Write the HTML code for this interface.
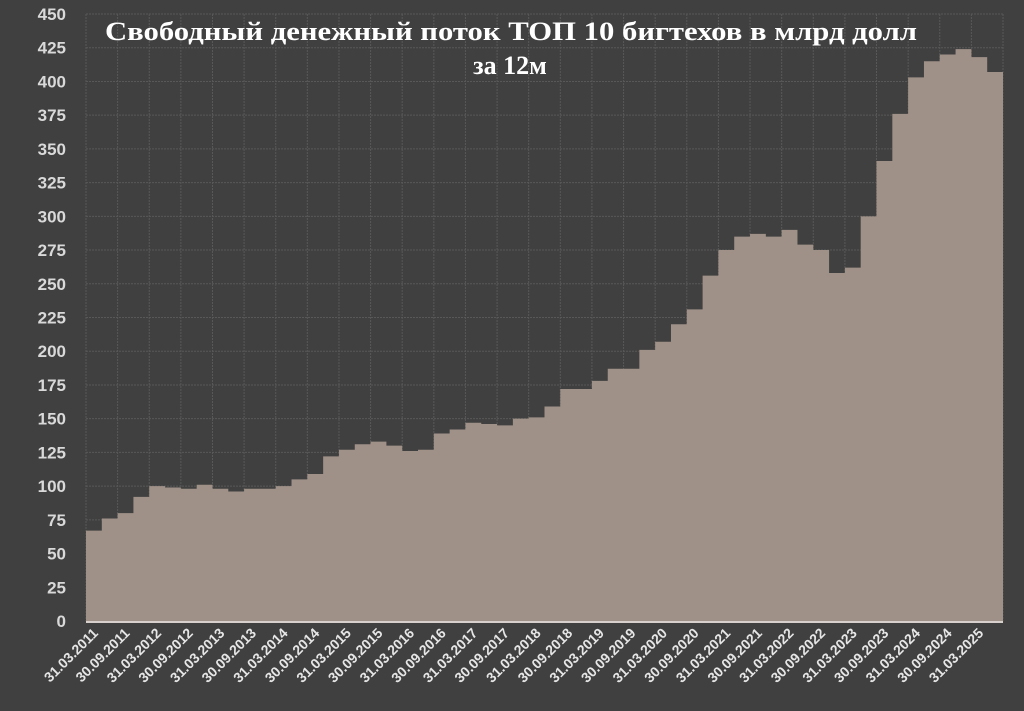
<!DOCTYPE html>
<html><head><meta charset="utf-8"><style>
body{margin:0;background:#404040;}
</style></head><body>
<svg width="1024" height="711" xmlns="http://www.w3.org/2000/svg" style="display:block">
<rect width="1024" height="711" fill="#404040"/>
<g id="grid" stroke="#585858" stroke-width="1" stroke-dasharray="2,1"></g>
<g id="bars"></g>
<line x1="86" y1="622" x2="1003" y2="622" stroke="#d8d0cc" stroke-width="2"/>
<g id="ylab" font-family="Liberation Sans, sans-serif" font-weight="bold" font-size="17" fill="#d9d9d9" text-anchor="end"></g>
<g id="xlab" font-family="Liberation Sans, sans-serif" font-weight="bold" font-size="14" fill="#e6e6e6" text-anchor="end"></g>
<text x="105" y="40" textLength="812" lengthAdjust="spacingAndGlyphs" font-family="Liberation Serif, serif" font-weight="bold" font-size="26" fill="#ffffff">Свободный денежный поток ТОП 10 бигтехов в млрд долл</text>
<text x="510" y="74" font-family="Liberation Serif, serif" font-weight="bold" font-size="26" fill="#ffffff" text-anchor="middle">за 12м</text>
</svg>
<script>
const v=[67,76,80,92,100,99,98,101,98,96,98,98,100,105,109,122,127,131,133,130,126,127,139,142,147,146,145,150,151,159,172,172,178,187,187,201,207,220,231,256,275,285,287,285,290,279,275,258,262,300,341,376,403,415,420,424,418,407];
const NS="http://www.w3.org/2000/svg";
const x0=86,w=917/58,y0=621,k=(621-14)/450;
function el(n,a,p,t){const e=document.createElementNS(NS,n);for(const q in a)e.setAttribute(q,a[q]);if(t!==undefined)e.textContent=t;document.getElementById(p).appendChild(e);}
for(let i=0;i<=18;i++){const y=y0-i*25*k;el('line',{x1:x0,x2:1003,y1:y,y2:y},'grid');el('text',{x:66,y:y+6},'ylab',String(i*25));}
for(let i=0;i<=29;i++){const x=x0+i*2*w;el('line',{x1:x,x2:x,y1:14,y2:y0},'grid');}
let d='M'+x0+' '+y0;
v.forEach((val,i)=>{const y=y0-val*k;d+=' L'+(x0+i*w)+' '+y+' L'+(x0+(i+1)*w)+' '+y;});
d+=' L1003 '+y0+' Z';
el('path',{d:d,fill:'#a09188'},'bars');
for(let i=0;i<29;i++){const x=x0+i*2*w+w/2+5;const yr=2011+Math.floor(i/2);const lab=(i%2?'30.09.':'31.03.')+yr;el('text',{x:x,y:634,transform:'rotate(-45 '+x+' 634)'},'xlab',lab);}
</script>
</body></html>
